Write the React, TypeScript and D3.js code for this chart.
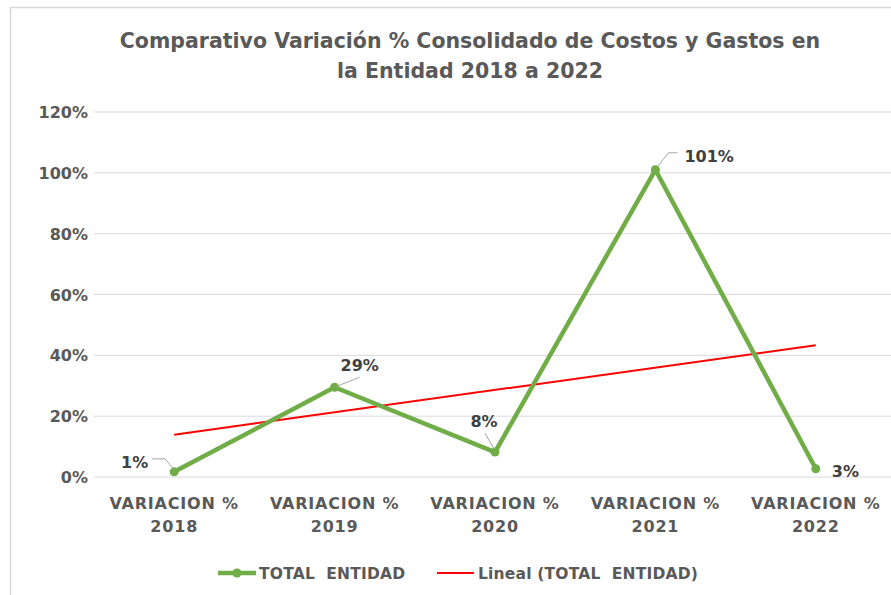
import React from 'react';
import * as d3 from 'd3';

const W = 891;
const H = 595;
const MARGIN = { top: 112, right: -5, bottom: 118, left: 94 };

const categories = ['2018', '2019', '2020', '2021', '2022'];
const totalEntidad = [0.017, 0.295, 0.082, 1.01, 0.027];
const valueLabels = ['1%', '29%', '8%', '101%', '3%'];
const yTicks = [0, 0.2, 0.4, 0.6, 0.8, 1.0, 1.2];

const GREEN = '#70AD47';
const RED = '#FF0000';
const TEXT = '#595959';
const LABEL = '#404040';
const GRID = '#D9D9D9';
const FONT = '"DejaVu Sans", sans-serif';

// label placement relative to each point: [dx, dy, anchor], plus leader polyline
const labelPlacement: [number, number, string][] = [
  [-26, -4, 'end'],
  [6, -16, 'start'],
  [-11, -25, 'middle'],
  [29, -8, 'start'],
  [16, 8, 'start'],
];
const leaders: [number, number][][] = [
  [[-22, -13], [-9, -13], [0, -2]],
  [[2, -1], [25, -10]],
  [[-10, -19], [-1, -3]],
  [[2, -3], [13, -17], [22, -17]],
  [],
];

export default function App() {
  const innerW = W - MARGIN.left - MARGIN.right;
  const x = d3.scaleBand<string>().domain(categories).range([MARGIN.left, W - MARGIN.right]);
  const cx = (c: string) => (x(c) as number) + x.bandwidth() / 2;
  const y = d3.scaleLinear().domain([0, 1.2]).range([H - MARGIN.bottom, MARGIN.top]);

  // linear trendline (least squares on index 1..n), like Excel's "Lineal"
  const n = totalEntidad.length;
  const xs = totalEntidad.map((_, i) => i + 1);
  const mx = d3.mean(xs) as number;
  const my = d3.mean(totalEntidad) as number;
  const slope =
    d3.sum(xs.map((xi, i) => (xi - mx) * (totalEntidad[i] - my))) /
    d3.sum(xs.map(xi => (xi - mx) ** 2));
  const intercept = my - slope * mx;
  const trend = [categories[0], categories[n - 1]].map((c, k) => ({
    c,
    v: intercept + slope * (k === 0 ? 1 : n),
  }));

  const line = d3.line<number>().x((_, i) => cx(categories[i])).y(d => y(d));
  const trendLine = d3.line<{ c: string; v: number }>().x(d => cx(d.c)).y(d => y(d.v));

  return (
    <svg
      width={W}
      height={H}
      style={{ position: 'absolute', left: 0, top: 0, background: '#fff' }}
      fontFamily={FONT}
    >
      {/* chart border */}
      <path d={`M10.5,${H} V7.5 H${W}`} fill="none" stroke={GRID} strokeWidth={1.5} />

      {/* title */}
      <text x={470} y={48} textAnchor="middle" fontSize={20.5} fontWeight="bold" fill={TEXT}>
        Comparativo Variación % Consolidado de Costos y Gastos en
      </text>
      <text x={470} y={78} textAnchor="middle" fontSize={20.5} fontWeight="bold" fill={TEXT}>
        la Entidad 2018 a 2022
      </text>

      {/* grid + y ticks */}
      {yTicks.map(t => (
        <g key={t}>
          <line x1={MARGIN.left} x2={MARGIN.left + innerW} y1={y(t)} y2={y(t)} stroke={GRID} strokeWidth={1} />
          <text x={88} y={y(t) + 6} textAnchor="end" fontSize={16} fontWeight="bold" fill={TEXT}>
            {d3.format('.0%')(t)}
          </text>
        </g>
      ))}

      {/* category labels */}
      {categories.map(c => (
        <text key={c} x={cx(c)} textAnchor="middle" fontSize={16} letterSpacing={0.8} fontWeight="bold" fill={TEXT}>
          <tspan x={cx(c)} y={509}>VARIACION %</tspan>
          <tspan x={cx(c)} y={532}>{c}</tspan>
        </text>
      ))}

      {/* trend */}
      <path d={trendLine(trend) as string} fill="none" stroke={RED} strokeWidth={2} />

      {/* series */}
      <path d={line(totalEntidad) as string} fill="none" stroke={GREEN} strokeWidth={4.5} strokeLinejoin="round" />
      {totalEntidad.map((v, i) => (
        <circle key={i} cx={cx(categories[i])} cy={y(v)} r={4.5} fill={GREEN} />
      ))}

      {/* leader lines + data labels */}
      {totalEntidad.map((v, i) => {
        const px = cx(categories[i]);
        const py = y(v);
        const [dx, dy, anchor] = labelPlacement[i];
        const pts = leaders[i];
        return (
          <g key={i}>
            {pts.length > 0 && (
              <polyline
                points={pts.map(([a, b]) => `${px + a},${py + b}`).join(' ')}
                fill="none"
                stroke="#A6A6A6"
                strokeWidth={1}
              />
            )}
            <text x={px + dx} y={py + dy} textAnchor={anchor} fontSize={16} fontWeight="bold" fill={LABEL}>
              {valueLabels[i]}
            </text>
          </g>
        );
      })}

      {/* legend */}
      <g>
        <line x1={218} x2={256} y1={573} y2={573} stroke={GREEN} strokeWidth={4.5} />
        <circle cx={237} cy={573} r={4.5} fill={GREEN} />
        <text x={259} y={579} fontSize={15.5} letterSpacing={0.2} fontWeight="bold" fill={TEXT} xmlSpace="preserve">
          TOTAL  ENTIDAD
        </text>
        <line x1={437} x2={474} y1={573} y2={573} stroke={RED} strokeWidth={2} />
        <text x={478} y={579} fontSize={15.5} letterSpacing={0.2} fontWeight="bold" fill={TEXT} xmlSpace="preserve">
          Lineal (TOTAL  ENTIDAD)
        </text>
      </g>
    </svg>
  );
}
